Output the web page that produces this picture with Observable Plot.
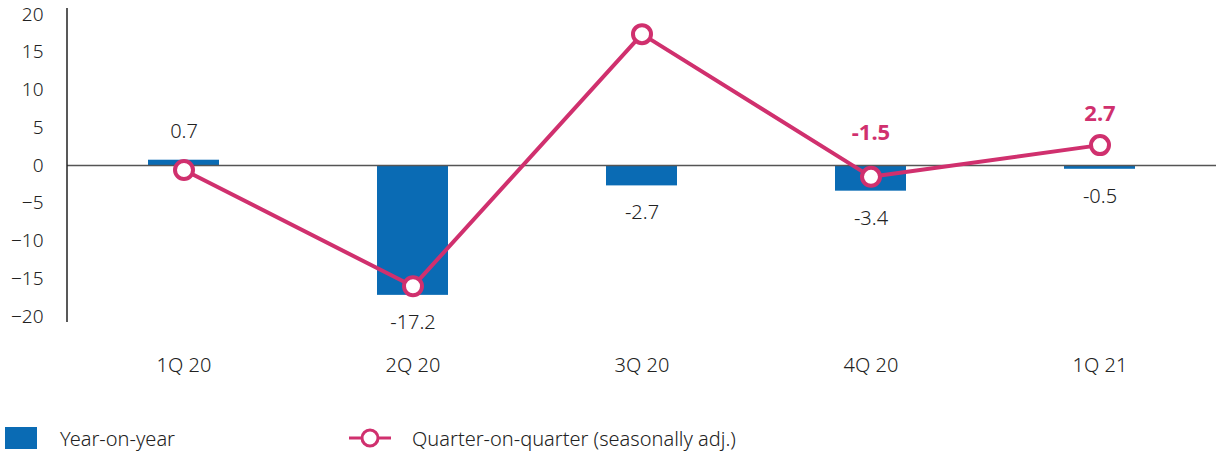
<!DOCTYPE html>
<html>
<head>
<meta charset="utf-8">
<script src="https://cdn.jsdelivr.net/npm/d3@7"></script>
<script src="https://cdn.jsdelivr.net/npm/@observablehq/plot@0.6"></script>
<style>
  html, body { margin: 0; padding: 0; background: #fff; }
  body { width: 1216px; height: 452px; overflow: hidden; font-family: "Noto Sans", sans-serif; color: #222; }
  #wrap { position: relative; width: 1216px; height: 452px; }
  #legend { position: absolute; left: 0; top: 412px; width: 1216px; height: 52px; font-size: 20px; font-weight: 300; color: #222; }
  .item { position: absolute; top: 0; height: 52px; display: flex; align-items: center; }
  .item svg { display: block; }
</style>
</head>
<body>
<div id="wrap"><div id="chart"></div><div id="legend"></div></div>
<script>
const categories = ["1Q 20", "2Q 20", "3Q 20", "4Q 20", "1Q 21"];
const yoy = [0.7, -17.2, -2.7, -3.4, -0.5];
const qoq = [-0.6, -16.0, 17.4, -1.5, 2.7];
const qoqLabeled = ["4Q 20", "1Q 21"];
const yTicks = [-20, -15, -10, -5, 0, 5, 10, 15, 20];
const seriesNames = ["Year-on-year", "Quarter-on-quarter (seasonally adj.)"];

const blue = "#0a6bb4";
const pink = "#d0306e";
const ink = "#222";

const bars = categories.map((c, i) => ({cat: c, v: yoy[i]}));
const line = categories.map((c, i) => ({cat: c, v: qoq[i]}));

const leftAxisLine = (index, scales, values, dims) => {
  const g = d3.create("svg:line")
    .attr("x1", dims.marginLeft).attr("x2", dims.marginLeft)
    .attr("y1", scales.y(20) - 6).attr("y2", scales.y(-20) + 6)
    .attr("stroke", "#222").attr("stroke-width", 1.5);
  return g.node();
};

const chart = Plot.plot({
  width: 1216,
  height: 400,
  marginLeft: 67,
  marginRight: 0,
  marginTop: 14,
  marginBottom: 84,
  style: {fontFamily: "Noto Sans, sans-serif", fontSize: "18px", color: ink, background: "#fff"},
  x: {domain: categories, paddingInner: 0.69, paddingOuter: 0.345, label: null},
  y: {domain: [-20, 20], label: null},
  marks: [
    Plot.barY(bars, {x: "cat", y: "v", fill: blue}),
    Plot.ruleY([0], {stroke: "#555", strokeWidth: 1.5}),
    leftAxisLine,
    Plot.axisY({ticks: yTicks, tickSize: 0, tickPadding: 24, fontSize: 19, fontWeight: 300, fill: ink, label: null}),
    Plot.axisX({tickSize: 0, tickPadding: 41, fontSize: 20, fontWeight: 300, fill: ink, label: null}),
    Plot.text(bars.filter(d => d.v >= 0), {x: "cat", y: "v", text: d => d.v.toFixed(1), dy: -29, fontSize: 20, fontWeight: 300, fill: ink}),
    Plot.text(bars.filter(d => d.v < 0), {x: "cat", y: "v", text: d => d.v.toFixed(1), dy: 27, fontSize: 20, fontWeight: 300, fill: ink}),
    Plot.line(line, {x: "cat", y: "v", stroke: pink, strokeWidth: 4}),
    Plot.dot(line, {x: "cat", y: "v", r: 9, fill: "#fff", stroke: pink, strokeWidth: 4}),
    Plot.text(line.filter(d => d.cat === qoqLabeled[0]), {x: "cat", y: "v", text: d => d.v.toFixed(1), dy: -44, fontSize: 22, fontWeight: 700, fill: pink}),
    Plot.text(line.filter(d => d.cat === qoqLabeled[1]), {x: "cat", y: "v", text: d => d.v.toFixed(1), dy: -31, fontSize: 22, fontWeight: 700, fill: pink})
  ]
});
document.getElementById("chart").appendChild(chart);

const legend = document.getElementById("legend");
legend.innerHTML = `
  <div class="item" style="left:5px">
    <svg width="32" height="22"><rect x="0" y="0" width="32" height="22" fill="${blue}"/></svg>
    <span style="margin-left:23px">${seriesNames[0]}</span>
  </div>
  <div class="item" style="left:349px">
    <svg width="42" height="22"><line x1="0" x2="42" y1="11" y2="11" stroke="${pink}" stroke-width="3"/><circle cx="21" cy="11" r="8" fill="#fff" stroke="${pink}" stroke-width="3"/></svg>
    <span style="margin-left:21px">${seriesNames[1]}</span>
  </div>`;
</script>
</body>
</html>
